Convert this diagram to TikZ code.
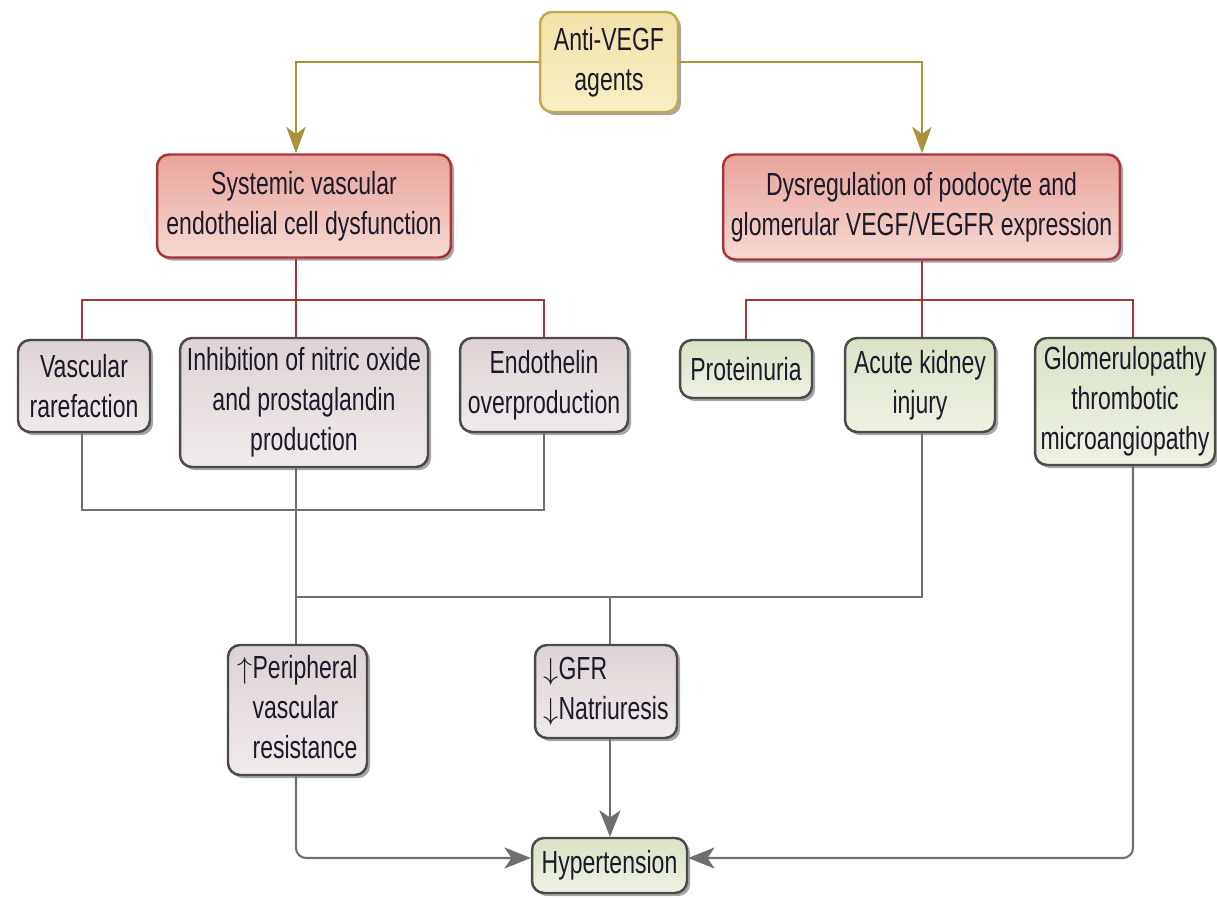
\documentclass[tikz,border=0pt]{standalone}
\usepackage{fontspec}
\setmainfont[FakeStretch=0.72]{Liberation Sans}
\usetikzlibrary{arrows.meta,shadows,calc}
\definecolor{oliveline}{HTML}{A8923A}
\definecolor{antifill}{HTML}{F8EFC4}
\definecolor{antifillb}{HTML}{F1E2A8}
\definecolor{antidraw}{HTML}{C4A84C}
\definecolor{redtop}{HTML}{E8A39C}
\definecolor{redbot}{HTML}{F7D9D3}
\definecolor{reddraw}{HTML}{A8343A}
\definecolor{graytop}{HTML}{DED3D4}
\definecolor{graybot}{HTML}{F0EAEA}
\definecolor{greentop}{HTML}{D9E2C6}
\definecolor{greenbot}{HTML}{EEF2E4}
\definecolor{boxdraw}{HTML}{4A4A4A}
\definecolor{conn}{HTML}{6F6F70}
\definecolor{txt}{HTML}{1A1A2A}
\begin{document}
\begin{tikzpicture}[x=0.02cm,y=-0.02cm,
  every node/.style={font=\fontsize{18.2}{22.8}\selectfont, text=txt, align=center, inner sep=2pt},
  boxbase/.style={rounded corners=0.24cm, line width=1.4pt,
    drop shadow={shadow xshift=1.8pt, shadow yshift=-1.8pt, fill=black, opacity=0.35}},
  antibox/.style={boxbase, draw=antidraw, top color=antifillb, bottom color=antifill},
  redbox/.style={boxbase, draw=reddraw, top color=redtop, bottom color=redbot},
  graybox/.style={boxbase, draw=boxdraw, top color=graytop, bottom color=graybot},
  greenbox/.style={boxbase, draw=boxdraw, top color=greentop, bottom color=greenbot},
  oliveconn/.style={draw=oliveline, line width=1.3pt, -{Stealth[length=15pt,width=11pt,inset=4pt]}},
  redconn/.style={draw=reddraw, line width=1.2pt},
  grayconn/.style={draw=conn, line width=1.2pt},
  grayarrow/.style={grayconn, rounded corners=0.2cm, -{Stealth[length=15pt,width=12pt,inset=4pt]}}
]
\useasboundingbox (0,0) rectangle (1217,898);

% column / row helpers
\coordinate (cL) at (296,0);
\coordinate (cM) at (610,0);
\coordinate (cA) at (922,0);
\coordinate (cG) at (1133,0);
\coordinate (cV) at (82,0);
\coordinate (rowR) at (0,300);
\coordinate (rowA) at (0,510);
\coordinate (rowB) at (0,597);
\coordinate (rowH) at (0,858);

% nodes
\node[antibox, minimum width=2.76cm, minimum height=2.0cm] (anti) at (609,62) {Anti-VEGF\\agents};
\node[redbox, minimum width=5.88cm, minimum height=2.06cm] (sys) at (304,206) {Systemic vascular\\endothelial cell dysfunction};
\node[redbox, minimum width=7.94cm, minimum height=2.10cm] (dys) at (921.5,207) {Dysregulation of podocyte and\\glomerular VEGF/VEGFR expression};

\node[graybox, minimum width=2.64cm, minimum height=1.84cm] (vr) at (84,386) {Vascular\\rarefaction};
\node[graybox, minimum width=4.96cm, minimum height=2.58cm] (inh) at (304,402.5) {Inhibition of nitric oxide\\and prostaglandin\\production};
\node[graybox, minimum width=3.36cm, minimum height=1.88cm] (endo) at (544,385) {Endothelin\\overproduction};

\node[greenbox, minimum width=2.64cm, minimum height=1.16cm] (prot) at (746,369) {Proteinuria};
\node[greenbox, minimum width=3.0cm, minimum height=1.88cm] (aki) at (920,385) {Acute kidney\\injury};
\node[greenbox, minimum width=3.6cm, minimum height=2.54cm] (glom) at (1125,401.5) {Glomerulopathy\\thrombotic\\microangiopathy};

\node[graybox, minimum width=2.78cm, minimum height=2.6cm, align=left] (peri) at (297.5,710)
  {$\uparrow$Peripheral\\\phantom{$\uparrow$}vascular\\\phantom{$\uparrow$}resistance};
\node[graybox, minimum width=2.84cm, minimum height=1.86cm, align=left] (gfr) at (606,691.5)
  {$\downarrow$GFR\\$\downarrow$Natriuresis};
\node[greenbox, minimum width=3.1cm, minimum height=1.1cm] (hyp) at (609.5,865.5) {Hypertension};

% olive arrows
\draw[oliveconn] (anti.west) -| (sys.north -| cL);
\draw[oliveconn] (anti.east) -| (dys.north -| cA);

% red tree left
\draw[redconn] (sys.south -| cL) -- (cL |- rowR);
\draw[redconn] (vr.north -| cV) |- (endo.north |- rowR) -- (endo.north);
\draw[redconn] (cL |- rowR) -- (inh.north -| cL);
% red tree right
\draw[redconn] (dys.south -| cA) -- (cA |- rowR);
\draw[redconn] (prot.north) |- (cG |- rowR) -- (glom.north -| cG);
\draw[redconn] (cA |- rowR) -- (aki.north -| cA);

% gray connectors
\draw[grayconn] (vr.south -| cV) |- (endo.south |- rowA) -- (endo.south);
\draw[grayconn] (inh.south -| cL) -- (cL |- rowB) -- (peri.north -| cL);
\draw[grayconn] (aki.south -| cA) -- (cA |- rowB) -- (cL |- rowB);
\draw[grayconn] (cM |- rowB) -- (gfr.north -| cM);

% arrows to hypertension
\draw[grayarrow] (gfr.south -| cM) -- (hyp.north -| cM);
\draw[grayarrow] (peri.south -| cL) |- (hyp.west |- rowH);
\draw[grayarrow] (glom.south -| cG) |- (hyp.east |- rowH);
\end{tikzpicture}
\end{document}
